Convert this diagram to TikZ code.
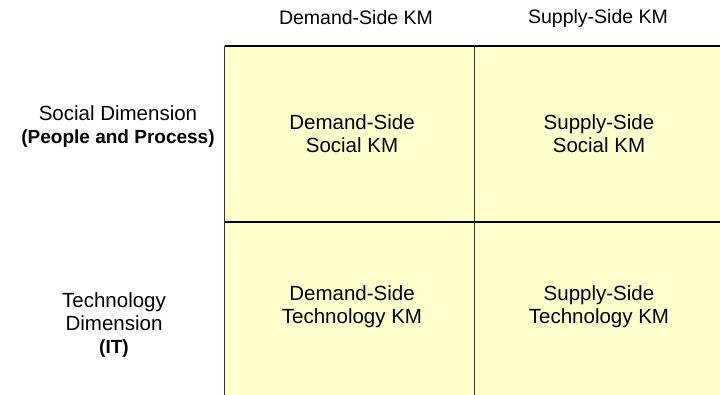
\documentclass[tikz,border=0pt]{standalone}
\usepackage{fontspec}
\setmainfont{Liberation Sans}
\definecolor{cellfill}{HTML}{FFFFCC}
\definecolor{gridgrey}{HTML}{333333}
\tikzset{
  cell/.style={draw=none, fill=cellfill, minimum width=250pt, minimum height=176pt, inner sep=0pt, anchor=north west},
  celltext/.style={align=center, font=\fontsize{20.5}{23}\selectfont, text=black},
  lbl/.style={align=center, font=\fontsize{20.5}{23}\selectfont, text=black},
  headtext/.style={align=center, font=\fontsize{19.5}{22}\selectfont, text=black},
}
\begin{document}
\begin{tikzpicture}[x=1pt, y=-1pt]
\useasboundingbox (0,0) rectangle (720,395);
\begin{scope}
\clip (0,0) rectangle (720,395);
\node[cell] (c11) at (224.5,46) {};
\node[cell] (c12) at (474.5,46) {};
\node[cell] (c21) at (224.5,222) {};
\node[cell] (c22) at (474.5,222) {};
\draw[black, line width=1.5pt] (c11.north west) -- (c12.north east);
\draw[black, line width=1.5pt] (c21.north west) -- (c22.north east);
\draw[gridgrey, line width=1.5pt] (c11.north west) -- (c21.south west);
\draw[gridgrey, line width=1.5pt] (c12.north west) -- (c22.south west);
\end{scope}
\node[celltext] (t11) at (352,134) {Demand-Side\\Social KM};
\node[celltext] (t12) at (599,134) {Supply-Side\\Social KM};
\node[celltext] (t21) at (352,307) {Demand-Side\\Technology KM};
\node[celltext] (t22) at (599,307) {Supply-Side\\Technology KM};
\node[headtext] (h1) at (356,18) {Demand-Side KM};
\node[headtext] (h2) at (598,18) {Supply-Side KM};
\node[lbl] (r1) at (118,127) {Social Dimension\\{\fontsize{19}{21}\selectfont\bfseries (People and Process)}};
\node[lbl] (r2) at (114,325) {Technology\\Dimension\\{\fontsize{19}{23}\selectfont\bfseries (IT)}};
\end{tikzpicture}
\end{document}
